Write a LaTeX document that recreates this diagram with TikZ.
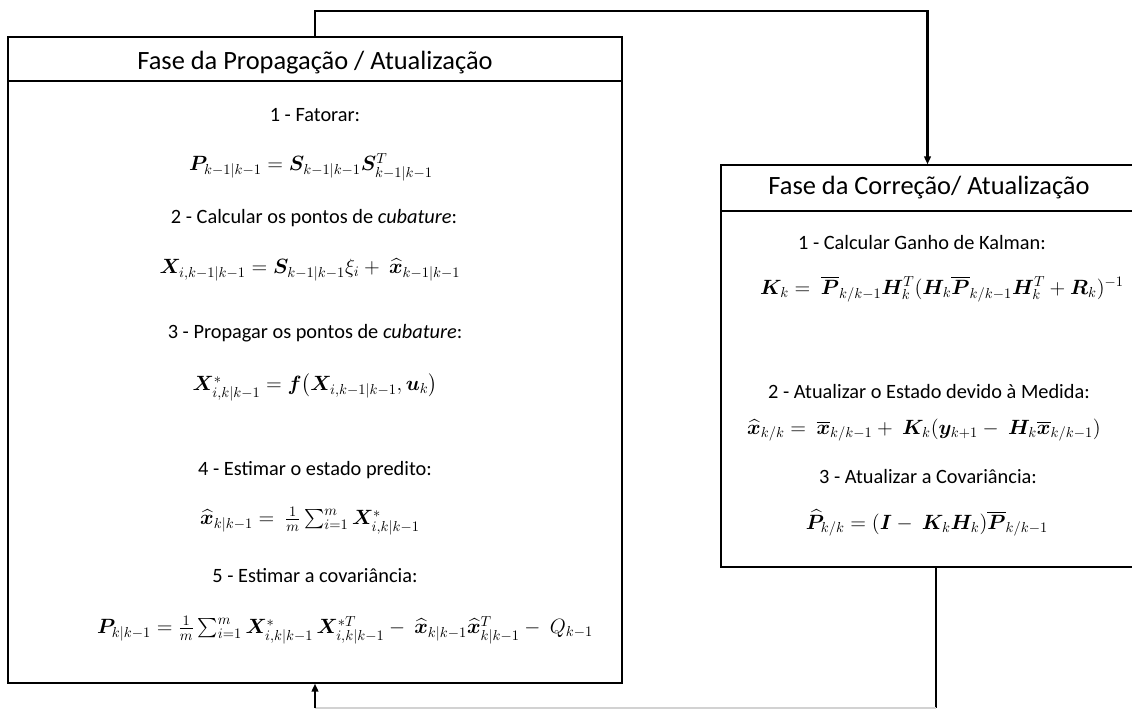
\RequirePackage{fix-cm}
\documentclass[tikz,border=0pt]{standalone}
\usepackage{amsmath,bm}
\usepackage{fontspec}
\setmainfont{Carlito}
\usetikzlibrary{arrows.meta}
\begin{document}
\begin{tikzpicture}[x=0.75pt,y=-0.75pt,
  box/.style={draw, line width=1pt, inner sep=0pt},
  conn/.style={line width=1.6pt},
  arr/.style={-{Triangle[length=6pt,width=5pt]}},
  ttl/.style={font=\fontsize{19.8}{23}\selectfont, inner sep=0pt},
  txt/.style={font=\fontsize{15.25}{18}\selectfont, inner sep=0pt},
  eq/.style={font=\fontsize{15.5}{18}\selectfont, inner sep=0pt}]
\useasboundingbox (0,0) rectangle (1132,709);
\fill[white] (0,0) rectangle (1132,709);
% boxes
\node[box, minimum width=460.5pt, minimum height=484.5pt] (prop) at (315,360) {};
\node[box, minimum width=309.75pt, minimum height=301.5pt] (corr) at (927.5,366) {};
\draw[line width=1pt] (prop.west |- 0,81) -- (prop.east |- 0,81);
\draw[line width=1pt] (corr.west |- 0,211) -- (corr.east |- 0,211);
% connectors
\coordinate (top) at (315,11);
\draw[conn,arr] (prop.north) -- (top) -| (corr.north);
\coordinate (b1) at (936,708);
\coordinate (b2) at (315,708);
\draw[conn] (b1 |- corr.south) -- (b1);
\draw[gray!35, line width=0.8pt] (b1) -- (b2);
\draw[conn,arr] (b2) -- (prop.south);
% left texts
\node[ttl] (t1) at (315,63) {Fase da Propagação / Atualização};
\node[txt] (s1) at (315,115) {1 - Fatorar:};
\node[eq] (e1) at (311,167) {$\bm{P}_{k-1|k-1} = \bm{S}_{k-1|k-1}\bm{S}^{T}_{k-1|k-1}$};
\node[txt] (s2) at (314,218) {2 - Calcular os pontos de \textit{cubature}:};
\node[eq] (e2) at (310,270) {$\bm{X}_{i,k-1|k-1} = \bm{S}_{k-1|k-1}\xi_i +\ \widehat{\bm{x}}_{k-1|k-1}$};
\node[txt] (s3) at (315,333) {3 - Propagar os pontos de \textit{cubature}:};
\node[eq] (e3) at (315,387) {$\bm{X}^{*}_{i,k|k-1} = \bm{f}\bigl(\bm{X}_{i,k-1|k-1}, \bm{u}_k\bigr)$};
\node[txt] (s4) at (315,470) {4 - Estimar o estado predito:};
\node[eq] (e4) at (310,521) {$\widehat{\bm{x}}_{k|k-1} =\ \tfrac{1}{m}\sum_{i=1}^{m}\bm{X}^{*}_{i,k|k-1}$};
\node[txt] (s5) at (315,576) {5 - Estimar a covariância:};
\node[eq] (e5) at (345,630) {$\bm{P}_{k|k-1} = \tfrac{1}{m}\sum_{i=1}^{m}\bm{X}^{*}_{i,k|k-1}\,\bm{X}^{*T}_{i,k|k-1} -\ \widehat{\bm{x}}_{k|k-1}\widehat{\bm{x}}^{T}_{k|k-1} -\ Q_{k-1}$};
% right texts
\node[ttl] (t2) at (929,188) {Fase da Correção/ Atualização};
\node[txt] (r1) at (922,243) {1 - Calcular Ganho de Kalman:};
\node[eq] (k1) at (942,289) {$\bm{K}_k =\ \overline{\bm{P}}_{k/k-1}\bm{H}_k^{T}(\bm{H}_k\overline{\bm{P}}_{k/k-1}\bm{H}_k^{T} + \bm{R}_k)^{-1}$};
\node[txt] (r2) at (929,392) {2 - Atualizar o Estado devido à Medida:};
\node[eq] (k2) at (924,430) {$\widehat{\bm{x}}_{k/k} =\ \overline{\bm{x}}_{k/k-1} +\ \bm{K}_k(\bm{y}_{k+1} -\ \bm{H}_k\overline{\bm{x}}_{k/k-1})$};
\node[txt] (r3) at (928,477) {3 - Atualizar a Covariância:};
\node[eq] (k3) at (927,523) {$\widehat{\bm{P}}_{k/k} = (\bm{I} -\ \bm{K}_k\bm{H}_k)\overline{\bm{P}}_{k/k-1}$};
\end{tikzpicture}
\end{document}
